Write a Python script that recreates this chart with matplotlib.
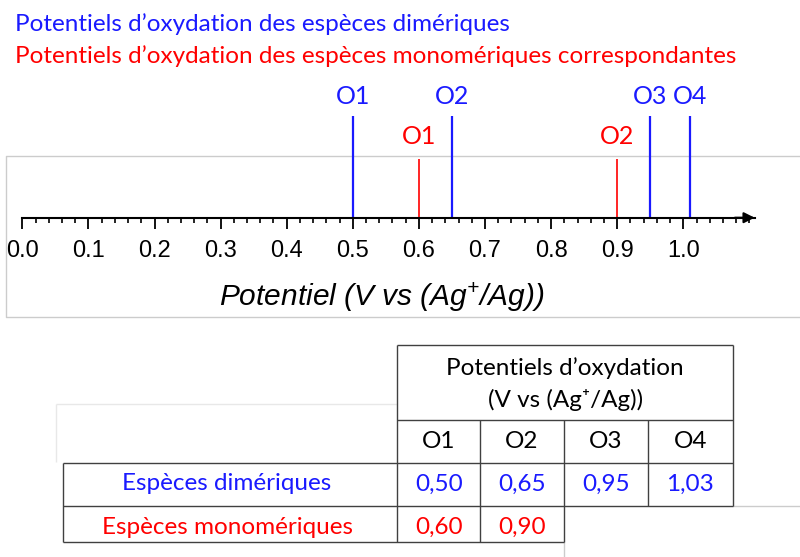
import matplotlib
matplotlib.use("Agg")
import matplotlib.pyplot as plt
from matplotlib.ticker import MultipleLocator

# positions
dimer_labels = ["O1", "O2", "O3", "O4"]
dimer_lines = [0.50, 0.65, 0.95, 1.01]
mono_labels = ["O1", "O2"]
mono_lines = [0.60, 0.90]

# values printed in the table
dimer_vals = [0.50, 0.65, 0.95, 1.03]
mono_vals = [0.60, 0.90]
row_names = ["Espèces dimériques", "Espèces monomériques"]

BLUE = "#1a1aff"
RED = "#ff0000"
GRID = "#404040"
SOFT = "#cccccc"
CAL = ["Lato", "DejaVu Sans"]
FS = 17.5

plt.rcParams["mathtext.fontset"] = "custom"
plt.rcParams["mathtext.rm"] = "Liberation Sans:italic"
plt.rcParams["mathtext.it"] = "Liberation Sans:italic"

W, H = 800, 557
fig = plt.figure(figsize=(W / 100, H / 100), dpi=100)

# overlay in pixel units (origin top-left) for titles, frame and table
ov = fig.add_axes([0, 0, 1, 1])
ov.set_xlim(0, W)
ov.set_ylim(H, 0)
ov.axis("off")

ov.text(15, 24, "Potentiels d’oxydation des espèces dimériques",
        color=BLUE, fontsize=FS, family=CAL, va="center", ha="left")
ov.text(15, 56, "Potentiels d’oxydation des espèces monomériques correspondantes",
        color=RED, fontsize=FS, family=CAL, va="center", ha="left")

# light frame around the number line
ov.plot([802, 6.3, 6.3, 802], [156, 156, 316.7, 316.7], color=SOFT, lw=1)

ov.text(382, 297, r"Potentiel (V vs (Ag$^{+}$/Ag))", fontsize=21.5,
        family="Liberation Sans", style="italic", ha="center", va="center")

# number line
x0, unit = 22.3, 661.0
xmax = 1.108
axis_y = 557 - 217.7
ax = fig.add_axes([x0 / W, axis_y / H, xmax * unit / W, 150 / H])
ax.set_xlim(0, xmax)
ax.set_ylim(0, 150)
ax.patch.set_alpha(0)
for s in ["top", "right", "left"]:
    ax.spines[s].set_visible(False)
ax.spines["bottom"].set_linewidth(1.5)
ax.set_yticks([])
ax.xaxis.set_minor_locator(MultipleLocator(0.02))
ax.set_xticks([round(0.1 * i, 1) for i in range(11)])
ax.set_xticklabels([f"{0.1 * i:.1f}" for i in range(11)],
                   family="Liberation Sans", fontsize=17)
ax.tick_params(axis="x", which="major", direction="out", length=8, width=1.3, pad=8)
ax.tick_params(axis="x", which="minor", direction="out", length=3.5, width=1.2)
ax.annotate("", xy=(xmax, 0), xytext=(xmax - 0.03, 0), annotation_clip=False,
            arrowprops=dict(arrowstyle="-|>", color="black", lw=1.5,
                            mutation_scale=16, shrinkA=0, shrinkB=0))

ax.vlines(dimer_lines, 0, 101.7, color=BLUE, lw=1.6, clip_on=False)
ax.vlines(mono_lines, 0, 58.7, color=RED, lw=1.2, clip_on=False)
for x, lab in zip(dimer_lines, dimer_labels):
    ax.text(x, 120.7, lab, color=BLUE, fontsize=18, family=CAL,
            ha="center", va="center", clip_on=False)
for x, lab in zip(mono_lines, mono_labels):
    ax.text(x, 80.7, lab, color=RED, fontsize=18, family=CAL,
            ha="center", va="center", clip_on=False)

# table
cols = [397.3, 480.3, 563.7, 647.7, 733.0]
rows = [345.0, 420.3, 462.7, 505.7, 542.3]
left = 63.3

def seg(xa, xb, ya, yb, c=GRID, lw=1.0):
    ov.plot([xa, xb], [ya, yb], color=c, lw=lw, solid_capstyle="butt")

# faint empty corner cell
seg(56, 397.3, 404, 404, "#e8e8e8")
seg(56, 56, 404, 461.7, "#e8e8e8")
# soft continuation lines
seg(733, 802, 505.7, 505.7, SOFT)
seg(563.7, 563.7, 542.3, 560, SOFT)

seg(cols[0], cols[-1], rows[0], rows[0])
seg(cols[0], cols[-1], rows[1], rows[1])
seg(left, cols[-1], rows[2], rows[2])
seg(left, cols[-1], rows[3], rows[3])
seg(left, cols[2], rows[4], rows[4])
seg(left, left, rows[2], rows[4])
seg(cols[0], cols[0], rows[0], rows[4])
seg(cols[-1], cols[-1], rows[0], rows[3])
seg(cols[1], cols[1], rows[1], rows[4])
seg(cols[2], cols[2], rows[1], rows[4])
seg(cols[3], cols[3], rows[1], rows[3])

head_x = (cols[0] + cols[-1]) / 2
ov.text(head_x, 367.7, "Potentiels d’oxydation", fontsize=FS, family=CAL,
        ha="center", va="center")
ov.text(head_x, 400, "(V vs (Ag⁺/Ag))", fontsize=FS, family=CAL,
        ha="center", va="center")

centers = [(cols[i] + cols[i + 1]) / 2 for i in range(4)]
row_y = [441.7, 484, 527.3]
for cx, lab in zip(centers, dimer_labels):
    ov.text(cx, row_y[0], lab, fontsize=FS, family=CAL, ha="center", va="center")
for cx, v in zip(centers, dimer_vals):
    ov.text(cx, row_y[1], f"{v:.2f}".replace(".", ","), color=BLUE,
            fontsize=FS, family=CAL, ha="center", va="center")
for cx, v in zip(centers, mono_vals):
    ov.text(cx, row_y[2], f"{v:.2f}".replace(".", ","), color=RED,
            fontsize=FS, family=CAL, ha="center", va="center")
ov.text(227, row_y[1], row_names[0], color=BLUE, fontsize=FS, family=CAL,
        ha="center", va="center")
ov.text(227, row_y[2], row_names[1], color=RED, fontsize=FS, family=CAL,
        ha="center", va="center")

fig.savefig("out.png", dpi=100)
